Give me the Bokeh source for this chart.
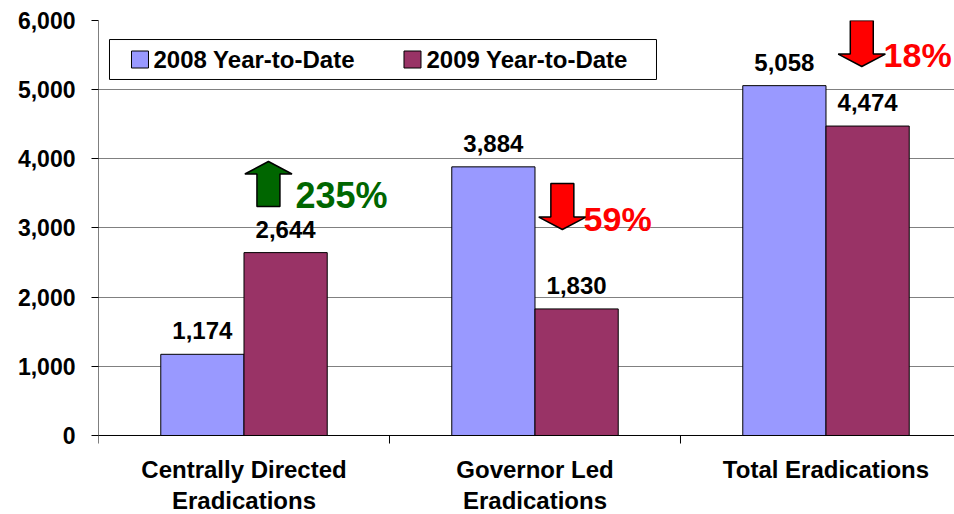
from bokeh.plotting import figure
from bokeh.models import (ColumnDataSource, Range1d, FixedTicker, NumeralTickFormatter,
                          LabelSet, Label)
from bokeh.core.properties import value
from bokeh.embed import file_html
from bokeh.resources import INLINE

# ---- data ----
categories = ["Centrally Directed\nEradications", "Governor Led\nEradications", "Total Eradications"]
series_names = ["2008 Year-to-Date", "2009 Year-to-Date"]
values_2008 = [1174, 3884, 5058]
values_2009 = [2644, 1830, 4474]
change_labels = ["235%", "59%", "18%"]
change_up = [True, False, False]
y_ticks = [0, 1000, 2000, 3000, 4000, 5000, 6000]

# ---- styles / layout ----
FONT = "Liberation Sans"
colors = ["#9999FF", "#993366"]
change_colors = ["#006600", "#FF0000", "#FF0000"]
bar_w = 0.286
X_END = 2.9416
Y_MIN = -1142.2            # room below zero for the category labels
TICK = 116                 # ~8px in data units

p = figure(width=954, height=514, output_backend="svg", toolbar_location=None,
           x_range=Range1d(0, X_END), y_range=Range1d(Y_MIN, 6000),
           x_axis_location=None,
           min_border_left=98, min_border_right=0, min_border_top=20, min_border_bottom=0)
p.outline_line_color = None
p.background_fill_color = "white"
p.xgrid.visible = False
p.ygrid.ticker = FixedTicker(ticks=y_ticks)
p.ygrid.grid_line_color = "#808080"
p.ygrid.grid_line_width = 1

# y axis
p.yaxis.ticker = FixedTicker(ticks=y_ticks)
p.yaxis.formatter = NumeralTickFormatter(format="0,0")
p.yaxis.major_label_text_font = FONT
p.yaxis.major_label_text_font_style = "bold"
p.yaxis.major_label_text_font_size = "23px"
p.yaxis.major_label_text_color = "black"
p.yaxis.major_tick_out = 7
p.yaxis.major_tick_in = 0
p.yaxis.minor_tick_line_color = None
p.yaxis.major_label_standoff = 16
p.yaxis.axis_line_color = None
p.yaxis.major_tick_line_color = "black"

n = len(categories)
# axis lines drawn at y=0 / x=0
p.segment(x0=[0, 0], y0=[-TICK, 0], x1=[0, X_END], y1=[6000, 0], line_color="black", line_width=1)
# category boundary ticks
p.segment(x0=list(range(1, n)), y0=[0] * (n - 1), x1=list(range(1, n)), y1=[-TICK] * (n - 1),
          line_color="black", line_width=1)
# category labels
p.text(x=[i + 0.5 for i in range(n)], y=[-300] * n, text=categories,
       text_align="center", text_baseline="top", text_font=value(FONT),
       text_font_style="bold", text_font_size="24px", text_color="black",
       text_line_height=1.15)

# bars
x08 = [i + 0.5 - bar_w / 2 for i in range(n)]
x09 = [i + 0.5 + bar_w / 2 for i in range(n)]
src08 = ColumnDataSource(dict(x=x08, top=values_2008, lab=[f"{v:,}" for v in values_2008]))
src09 = ColumnDataSource(dict(x=x09, top=values_2009, lab=[f"{v:,}" for v in values_2009]))
p.vbar(x="x", top="top", bottom=0, width=bar_w, source=src08, fill_color=colors[0], line_color="black", line_width=1)
p.vbar(x="x", top="top", bottom=0, width=bar_w, source=src09, fill_color=colors[1], line_color="black", line_width=1)

for src in (src08, src09):
    p.add_layout(LabelSet(x="x", y="top", text="lab", source=src, y_offset=15,
                          text_align="center", text_baseline="alphabetic",
                          text_font=value(FONT), text_font_style="bold", text_font_size="24px",
                          text_color="black"))

# change arrows
arrow_x = [0.584, 1.594, 2.623]
arrow_tail = [3311, 3643, 6000]
arrow_tip = [3961, 2978, 5335]
head_half = 0.081
shaft_half = 0.0395
head_len = 180
pct_x = [0.677, 1.667, 2.698]
pct_y = [3470, 3137, 5494]
pct_size = ["36px", "34px", "34px"]
xs, ys = [], []
for xc, yt, yp, up in zip(arrow_x, arrow_tail, arrow_tip, change_up):
    hb = yp - head_len if up else yp + head_len
    xs.append([xc - shaft_half, xc - shaft_half, xc - head_half, xc, xc + head_half,
               xc + shaft_half, xc + shaft_half])
    ys.append([yt, hb, hb, yp, hb, hb, yt])
p.patches(xs, ys, fill_color=change_colors, line_color="black", line_width=1.5)
for i, lab in enumerate(change_labels):
    p.add_layout(Label(x=pct_x[i], y=pct_y[i], text=lab, text_align="left",
                       text_baseline="alphabetic", text_font=FONT, text_font_style="bold",
                       text_font_size=pct_size[i], text_color=change_colors[i]))

# legend (manual)
p.quad(left=[0.0378], right=[1.9175], bottom=[5147], top=[5725],
       fill_color="white", line_color="black", line_width=1)
leg_sw_x = [0.1426, 1.079]
leg_txt_x = [0.189, 1.127]
leg_y = 5436
p.scatter(x=leg_sw_x, y=[leg_y] * 2, marker="square", size=17,
          fill_color=colors, line_color="black", line_width=1)
for i, s in enumerate(series_names):
    p.add_layout(Label(x=leg_txt_x[i], y=leg_y, text=s, text_align="left",
                       text_baseline="middle", text_font=FONT, text_font_style="bold",
                       text_font_size="24px", text_color="black"))

open("out.html", "w").write(file_html(p, INLINE))
